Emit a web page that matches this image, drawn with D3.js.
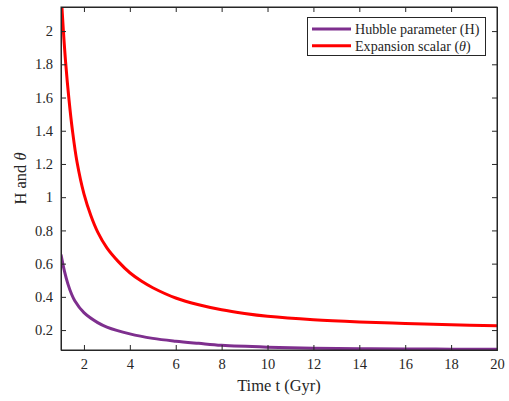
<!DOCTYPE html>
<html><head><meta charset="utf-8">
<script src="https://cdn.jsdelivr.net/npm/d3@7"></script>
<style>body{margin:0;background:#fff}svg{display:block}text{font-family:"Liberation Serif","Times New Roman",serif;fill:#262626}</style>
</head><body><svg id="c" width="509" height="401"></svg>
<script>
const timeH = [1,1.15,1.3,1.45,1.6,2,2.6,3,4,5,6,7,8,10,12,14,16,18,20];
const hubble = [0.655,0.555,0.478,0.42,0.377,0.305,0.245,0.218,0.177,0.15,0.133,0.12,0.108,0.097,0.091,0.088,0.086,0.085,0.084];
const timeT = [1,1.1,1.2,1.35,1.5,1.7,2,2.3,2.6,3,3.5,4,4.5,5,6,7,8,9,10,12,14,16,18,20];
const expansion = [2.24,2.01,1.815,1.585,1.40,1.21,1.02,0.89,0.79,0.695,0.612,0.545,0.495,0.455,0.393,0.352,0.322,0.30,0.283,0.262,0.249,0.24,0.232,0.226];
const xTicks = [2,4,6,8,10,12,14,16,18,20];
const yTicks = [0.2,0.4,0.6,0.8,1,1.2,1.4,1.6,1.8,2];
const seriesNames = ["Hubble parameter (H)","Expansion scalar (\u03B8)"];
const seriesColors = ["#7E2F8E","#FF0000"];

const svg = d3.select("#c");
const L=61,R=497,T=7,B=350;
const x = d3.scaleLinear().domain([1,20]).range([L,R]);
const y = d3.scaleLinear().domain([0.08,2.145]).range([B,T]);
const axCol="#262626";

svg.append("clipPath").attr("id","clip").append("rect").attr("x",L).attr("y",T).attr("width",R-L).attr("height",B-T);

const line = d3.line().x(d=>x(d[0])).y(d=>y(d[1])).curve(d3.curveCatmullRom.alpha(0.5));
const data = [d3.zip(timeH,hubble), d3.zip(timeT,expansion)];
data.forEach((d,i)=>{
  svg.append("path").attr("d",line(d)).attr("fill","none").attr("stroke",seriesColors[i]).attr("stroke-width",3).attr("clip-path","url(#clip)");
});

// axes
const fmt = d=>String(d);
const gB = svg.append("g").attr("transform",`translate(0,${B})`).call(d3.axisBottom(x).tickValues(xTicks).tickSize(-5).tickPadding(9).tickFormat(fmt));
const gT = svg.append("g").attr("transform",`translate(0,${T})`).call(d3.axisTop(x).tickValues(xTicks).tickSize(-5).tickFormat(""));
const gL = svg.append("g").attr("transform",`translate(${L},0)`).call(d3.axisLeft(y).tickValues(yTicks).tickSize(-5).tickPadding(8).tickFormat(fmt));
const gR = svg.append("g").attr("transform",`translate(${R},0)`).call(d3.axisRight(y).tickValues(yTicks).tickSize(-5).tickFormat(""));
[gB,gT,gL,gR].forEach(g=>{
  g.select(".domain").attr("stroke",axCol).attr("stroke-width",1);
  g.selectAll(".tick line").attr("stroke",axCol).attr("stroke-width",1);
  g.selectAll(".tick text").attr("font-size",14.5).attr("fill",axCol).attr("font-family","Liberation Serif, serif");
});
svg.append("rect").attr("x",L).attr("y",T).attr("width",R-L).attr("height",B-T).attr("fill","none").attr("stroke",axCol).attr("stroke-width",1);

// labels
svg.append("text").attr("x",(L+R)/2).attr("y",391).attr("text-anchor","middle").attr("font-size",16.5).text("Time t (Gyr)");
const yl = svg.append("text").attr("transform",`translate(26,${(T+B)/2}) rotate(-90)`).attr("text-anchor","middle").attr("font-size",16.5);
yl.append("tspan").text("H and ");
yl.append("tspan").attr("font-style","italic").text("\u03B8");

// legend
const lg = svg.append("g");
lg.append("rect").attr("x",307.5).attr("y",17.5).attr("width",178).attr("height",38).attr("fill","#fff").attr("stroke",axCol).attr("stroke-width",1);
seriesNames.forEach((n,i)=>{
  const yy = 29 + i*16.7;
  lg.append("line").attr("x1",312).attr("x2",351).attr("y1",yy).attr("y2",yy).attr("stroke",seriesColors[i]).attr("stroke-width",3);
  const t = lg.append("text").attr("x",355).attr("y",yy+5).attr("font-size",14.1);
  if(i===0){ t.text(n); }
  else { t.append("tspan").text("Expansion scalar ("); t.append("tspan").attr("font-style","italic").text("\u03B8"); t.append("tspan").text(")"); }
});
</script></body></html>
